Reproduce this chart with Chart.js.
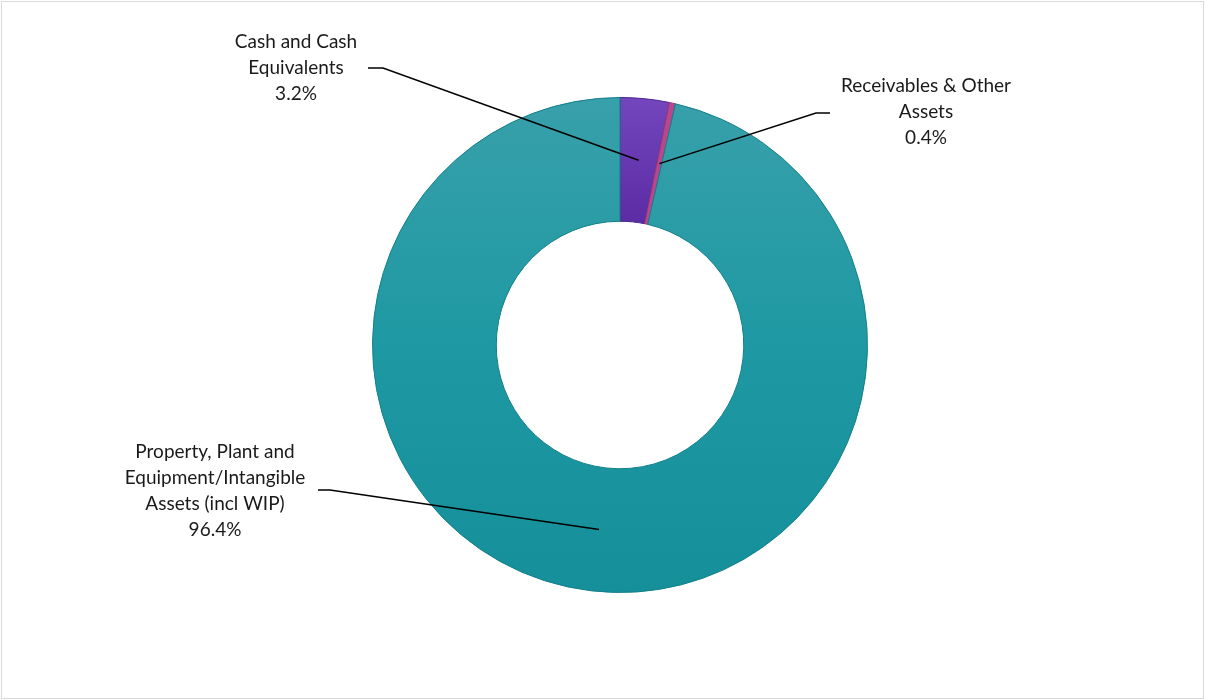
<!DOCTYPE html>
<html>
<head>
<meta charset="utf-8">
<script src="https://cdn.jsdelivr.net/npm/chart.js@4/dist/chart.umd.min.js"></script>
<style>
  html, body { margin: 0; padding: 0; background: #fff; }
  #wrap { position: relative; width: 1205px; height: 700px; }
  #frame { position: absolute; left: 1px; top: 1px; width: 1201px; height: 696px; border: 1px solid #d9d9d9; pointer-events: none; }
</style>
</head>
<body>
<div id="wrap">
  <canvas id="chart" width="1205" height="700"></canvas>
  <div id="frame"></div>
</div>
<script>
// data
const categories = [
  ['Cash and Cash', 'Equivalents'],
  ['Receivables & Other', 'Assets'],
  ['Property, Plant and', 'Equipment/Intangible', 'Assets (incl WIP)']
];
const shares = [3.2, 0.4, 96.4];
const percentLabels = ['3.2%', '0.4%', '96.4%'];

// label boxes: text centre x, first line centre y, elbow of the leader line
const labelSpots = [
  { x: 296, y: 42, lineStart: [368, 68], elbow: [383, 68] },
  { x: 926, y: 86, lineStart: [830, 113], elbow: [816, 113] },
  { x: 215, y: 452, lineStart: [318, 490], elbow: [330, 490] }
];

const sliceColor = (ctx) => {
  const chart = ctx.chart;
  const area = chart.chartArea;
  if (!area) return '#1e9ba5';
  const c = chart.ctx;
  if (ctx.dataIndex === 0) {
    const g = c.createLinearGradient(0, area.top, 0, area.top + 130);
    g.addColorStop(0, '#7446bd');
    g.addColorStop(1, '#5a2ba3');
    return g;
  }
  if (ctx.dataIndex === 1) return '#b8488e';
  const g = c.createLinearGradient(0, area.top, 0, area.bottom);
  g.addColorStop(0, '#38a0aa');
  g.addColorStop(0.5, '#1e99a3');
  g.addColorStop(1, '#15909b');
  return g;
};

const leaderLabels = {
  id: 'leaderLabels',
  afterDatasetsDraw(chart) {
    const c = chart.ctx;
    const meta = chart.getDatasetMeta(0);
    c.save();
    c.font = '19px Lato, "Open Sans", sans-serif';
    c.fillStyle = '#1a1a1a';
    c.textAlign = 'center';
    c.textBaseline = 'middle';
    meta.data.forEach((arc, i) => {
      const spot = labelSpots[i];
      const lines = categories[i].concat([percentLabels[i]]);
      lines.forEach((t, k) => c.fillText(t, spot.x, spot.y + k * 25.8));
      const mid = (arc.startAngle + arc.endAngle) / 2;
      const r = arc.innerRadius + (arc.outerRadius - arc.innerRadius) * 0.5;
      const ax = arc.x + Math.cos(mid) * r;
      const ay = arc.y + Math.sin(mid) * r;
      c.strokeStyle = '#000';
      c.lineWidth = 1.5;
      c.beginPath();
      c.moveTo(spot.lineStart[0], spot.lineStart[1]);
      c.lineTo(spot.elbow[0], spot.elbow[1]);
      c.lineTo(ax, ay);
      c.stroke();
    });
    c.restore();
  }
};

new Chart(document.getElementById('chart'), {
  type: 'doughnut',
  data: {
    labels: categories.map(l => l.join(' ')),
    datasets: [{
      data: shares,
      backgroundColor: sliceColor,
      borderColor: ['#4a2590', '#9a3a78', '#137f89'],
      borderWidth: 1
    }]
  },
  options: {
    responsive: false,
    animation: false,
    cutout: '50%',
    rotation: 0,
    layout: { padding: { left: 372, right: 337, top: 97, bottom: 107 } },
    plugins: {
      legend: { display: false },
      tooltip: { enabled: false }
    }
  },
  plugins: [leaderLabels]
});
</script>
</body>
</html>
